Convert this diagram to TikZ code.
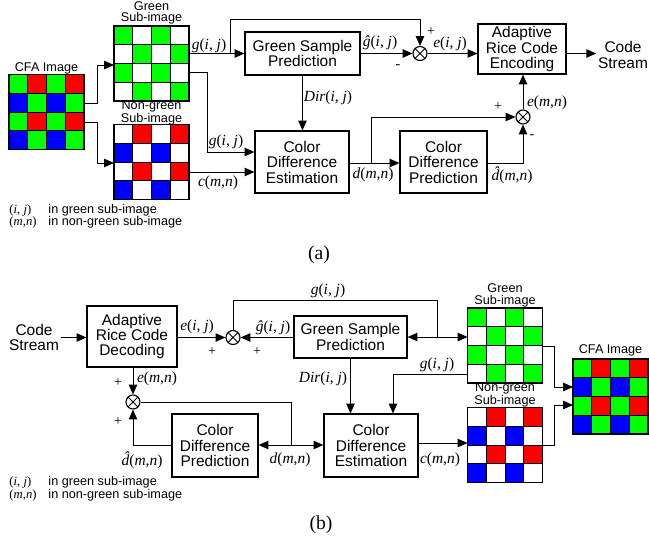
\documentclass[tikz,border=0pt]{standalone}
\usepackage{fontspec}
\setmainfont{Liberation Serif}
\setsansfont{Liberation Sans}
\usepackage{tikz}
\usetikzlibrary{arrows.meta}
\usetikzlibrary{calc}

\definecolor{pixG}{RGB}{0,255,0}
\definecolor{pixR}{RGB}{255,0,0}
\definecolor{pixB}{RGB}{0,0,255}

\def\cfapat{pixG,pixR,pixG,pixR,pixB,pixG,pixB,pixG,pixG,pixR,pixG,pixR,pixB,pixG,pixB,pixG}
\def\greenpat{pixG,white,pixG,white,white,pixG,white,pixG,pixG,white,pixG,white,white,pixG,white,pixG}
\def\nongreenpat{white,pixR,white,pixR,pixB,white,pixB,white,white,pixR,white,pixR,pixB,white,pixB,white}
\newcommand{\dhat}{\textit{\accent"02C6 d}}

% 4x4 pixel grid as a named node
\newcommand{\pixgrid}[3]{%
  \node [grid_style] (#1) at (#2) {};
  \foreach \pix [count=\k from 0] in #3 {
    \pgfmathtruncatemacro\prow{\k/4}
    \pgfmathtruncatemacro\pcol{mod(\k,4)}
    \filldraw [fill=\pix, draw=black, line width=0.5pt]
      ($(#1.north west)+(\pcol*18.75,\prow*18.75)$) rectangle +(18.75,18.75);
  }
  \draw [line width=0.8pt] (#1.north west) rectangle (#1.south east);
}

\begin{document}
\begin{tikzpicture}[x=0.025cm, y=-0.025cm, line width=0.7pt,
   >={Triangle[length=7pt,width=6pt]},
   block_style/.style={draw=black, line width=0.8pt, align=center, inner sep=0pt,
     font=\sffamily\fontsize{11}{11}\selectfont},
   sum_style/.style={circle, draw=black, line width=0.8pt, minimum size=0.35cm, inner sep=0pt,
     path picture={\draw[line width=0.7pt] (path picture bounding box.south west) -- (path picture bounding box.north east)
       (path picture bounding box.north west) -- (path picture bounding box.south east);}},
   grid_style/.style={minimum size=1.875cm, inner sep=0pt, outer sep=0pt},
   lbl_style/.style={inner sep=0pt, font=\fontsize{11}{11}\selectfont},
   sign_style/.style={inner sep=0pt, font=\fontsize{10}{10}\selectfont},
   cap_style/.style={inner sep=0pt, align=center, font=\sffamily\fontsize{9}{8}\selectfont},
   text_style/.style={inner sep=1pt, align=center, font=\sffamily\fontsize{11}{11}\selectfont},
   edge_style/.style={->, draw=black}]
	\useasboundingbox (0,0) rectangle (649,542);

	% ---------- (a) encoder ----------
	\pixgrid{cfaA}{46.5,112}{\cfapat}
	\pixgrid{greenA}{151.5,63.5}{\greenpat}
	\pixgrid{ngA}{151.5,162}{\nongreenpat}
	\node [cap_style] (tcfaA) at (46.5,68) {CFA Image};
	\node [cap_style] (tgreenA) at (151.5,13) {Green\\Sub-image};
	\node [cap_style] (tngA) at (151.5,113) {Non-green\\Sub-image};

	\node [block_style, minimum width=2.875cm, minimum height=1.075cm] (gspA) at (302.5,53.5) {Green Sample\\Prediction};
	\node [block_style, minimum width=2.35cm, minimum height=1.55cm] (cdeA) at (302,162) {Color\\Difference\\Estimation};
	\node [block_style, minimum width=2.175cm, minimum height=1.55cm] (cdpA) at (443.5,162) {Color\\Difference\\Prediction};
	\node [block_style, minimum width=2.2cm, minimum height=1.25cm] (arcA) at (522,49) {Adaptive\\Rice Code\\Encoding};
	\node [sum_style] (sumA1) at (420,53.5) {};
	\node [sum_style] (sumA2) at (523,117) {};
	\node [text_style] (streamA) at (623,55) {Code\\Stream};
	\coordinate (tapA1) at (230,53.5);
	\coordinate (tapA2) at (371,163);

	\draw [edge_style] (cfaA.east |- 0,103) -| (97,65) -- (greenA.west |- 0,65);
	\draw [edge_style] (cfaA.east |- 0,122) -| (97,163) -- (ngA.west |- 0,163);
	\draw [edge_style] (greenA.east |- gspA) -- (gspA.west);
	\draw [edge_style] (tapA1) |- (sumA1 |- 0,19) -- (sumA1.north);
	\draw [edge_style] (gspA.east) -- (sumA1.west);
	\draw [edge_style] (sumA1.east) -- (sumA1 -| arcA.west);
	\draw [edge_style] (arcA.east |- sumA1) -- (streamA.west |- sumA1);
	\draw [edge_style] (greenA.east |- 0,72) -| (207,152) -- (cdeA.west |- 0,152);
	\draw [edge_style] (ngA.east |- 0,172) -- (cdeA.west |- 0,172);
	\draw [edge_style] (gspA.south) -- (gspA.south |- cdeA.north);
	\draw [edge_style] (cdeA.east |- tapA2) -- (cdpA.west |- tapA2);
	\draw [edge_style] (tapA2) |- (sumA2.west);
	\draw [edge_style] (cdpA.east |- tapA2) -| (sumA2.south);
	\draw [edge_style] (sumA2.north) -- (sumA2 |- arcA.south);

	\node [lbl_style] (lgA1) at (209,46) {\textit{g}(\textit{i}, \textit{j})};
	\node [lbl_style] (lghA) at (380,43) {\textit{ĝ}(\textit{i}, \textit{j})};
	\node [sign_style] (mnA1) at (398,67) {-};
	\node [sign_style] (plA1) at (431,32) {+};
	\node [lbl_style] (leA1) at (450,44) {\textit{e}(\textit{i}, \textit{j})};
	\node [lbl_style] (lgA2) at (226,142) {\textit{g}(\textit{i}, \textit{j})};
	\node [lbl_style] (lcA) at (218,183) {\textit{c}(\textit{m},\textit{n})};
	\node [lbl_style] (ldirA) at (328,98) {\textit{Dir}(\textit{i}, \textit{j})};
	\node [lbl_style] (ldA) at (373,175) {\textit{d}(\textit{m},\textit{n})};
	\node [sign_style] (plA2) at (498,107) {+};
	\node [sign_style] (mnA2) at (532,137) {-};
	\node [lbl_style] (leA2) at (547,103) {\textit{e}(\textit{m},\textit{n})};
	\node [lbl_style] (ldhA) at (512,175) {\dhat(\textit{m},\textit{n})};

	\node [lbl_style, anchor=west, font=\fontsize{9}{9}\selectfont] (kA1) at (9,210) {(\textit{i}, \textit{j})};
	\node [cap_style, anchor=west] (kA2) at (48,210) {in green sub-image};
	\node [lbl_style, anchor=west, font=\fontsize{9}{9}\selectfont] (kA3) at (9,222) {(\textit{m},\textit{n})};
	\node [cap_style, anchor=west] (kA4) at (48,222) {in non-green sub-image};
	\node [inner sep=0pt, font=\fontsize{14}{14}\selectfont] (capA) at (319,255) {(a)};

	% ---------- (b) decoder ----------
	\pixgrid{greenB}{505,345.5}{\greenpat}
	\pixgrid{ngB}{505,445}{\nongreenpat}
	\pixgrid{cfaB}{610.5,396.5}{\cfapat}
	\node [cap_style] (tgreenB) at (505,295.5) {Green\\Sub-image};
	\node [cap_style] (tngB) at (505,395) {Non-green\\Sub-image};
	\node [cap_style] (tcfaB) at (610.5,350) {CFA Image};

	\node [text_style] (streamB) at (34,337.5) {Code\\Stream};
	\node [block_style, minimum width=2.25cm, minimum height=1.525cm] (arcB) at (132,336.5) {Adaptive\\Rice Code\\Decoding};
	\node [sum_style] (sumB1) at (233,337.5) {};
	\node [block_style, minimum width=2.825cm, minimum height=1.05cm] (gspB) at (350.5,337) {Green Sample\\Prediction};
	\node [block_style, minimum width=2.35cm, minimum height=1.575cm] (cdeB) at (371,445.5) {Color\\Difference\\Estimation};
	\node [block_style, minimum width=2.15cm, minimum height=1.575cm] (cdpB) at (215,445.5) {Color\\Difference\\Prediction};
	\node [sum_style] (sumB2) at (133,402) {};
	\coordinate (jB1) at (437,337);
	\coordinate (jB2) at (291,445);

	\draw [edge_style] (streamB.east) -- (arcB.west |- streamB.east);
	\draw [edge_style] (arcB.east |- sumB1) -- (sumB1.west);
	\draw [edge_style] (gspB.west |- sumB1) -- (sumB1.east);
	\draw (sumB1.north) |- (jB1 |- 0,300) -- (jB1);
	\draw [edge_style] (jB1) -- (gspB.east |- jB1);
	\draw [edge_style] (jB1) -- (greenB.west |- jB1);
	\draw [edge_style] (gspB.south) -- (gspB.south |- cdeB.north);
	\draw [edge_style] (greenB.west |- 0,374) -| (cdeB.north -| 393,0);
	\draw [edge_style] (arcB.south -| sumB2) -- (sumB2.north);
	\draw [edge_style] (cdpB.west |- jB2) -| (sumB2.south);
	\draw (sumB2.east) -| (jB2);
	\draw [edge_style] (jB2) -- (cdeB.west |- jB2);
	\draw [edge_style] (jB2) -- (cdpB.east |- jB2);
	\draw [edge_style] (cdeB.east |- 0,443) -- (ngB.west |- 0,443);
	\draw [edge_style] (greenB.east |- 0,346) -| (554,387) -- (cfaB.west |- 0,387);
	\draw [edge_style] (ngB.east |- 0,445) -| (554,405) -- (cfaB.west |- 0,405);

	\node [lbl_style] (leB1) at (197,327) {\textit{e}(\textit{i}, \textit{j})};
	\node [sign_style] (plB1) at (212,352) {+};
	\node [sign_style] (plB2) at (257,352) {+};
	\node [lbl_style] (lghB) at (273,328) {\textit{ĝ}(\textit{i}, \textit{j})};
	\node [lbl_style] (lgB1) at (328,291) {\textit{g}(\textit{i}, \textit{j})};
	\node [lbl_style] (ldirB) at (323,379) {\textit{Dir}(\textit{i}, \textit{j})};
	\node [lbl_style] (lgB2) at (437,365) {\textit{g}(\textit{i}, \textit{j})};
	\node [lbl_style] (leB2) at (157,379) {\textit{e}(\textit{m},\textit{n})};
	\node [sign_style] (plB3) at (118,383) {+};
	\node [sign_style] (plB4) at (118,422) {+};
	\node [lbl_style] (ldhB) at (142,460) {\dhat(\textit{m},\textit{n})};
	\node [lbl_style] (ldB) at (290,460) {\textit{d}(\textit{m},\textit{n})};
	\node [lbl_style] (lcB) at (440,460) {\textit{c}(\textit{m},\textit{n})};

	\node [lbl_style, anchor=west, font=\fontsize{9}{9}\selectfont] (kB1) at (9,482) {(\textit{i}, \textit{j})};
	\node [cap_style, anchor=west] (kB2) at (48,482) {in green sub-image};
	\node [lbl_style, anchor=west, font=\fontsize{9}{9}\selectfont] (kB3) at (9,495) {(\textit{m},\textit{n})};
	\node [cap_style, anchor=west] (kB4) at (48,495) {in non-green sub-image};
	\node [inner sep=0pt, font=\fontsize{14}{14}\selectfont] (capB) at (321,525) {(b)};

\end{tikzpicture}
\end{document}
